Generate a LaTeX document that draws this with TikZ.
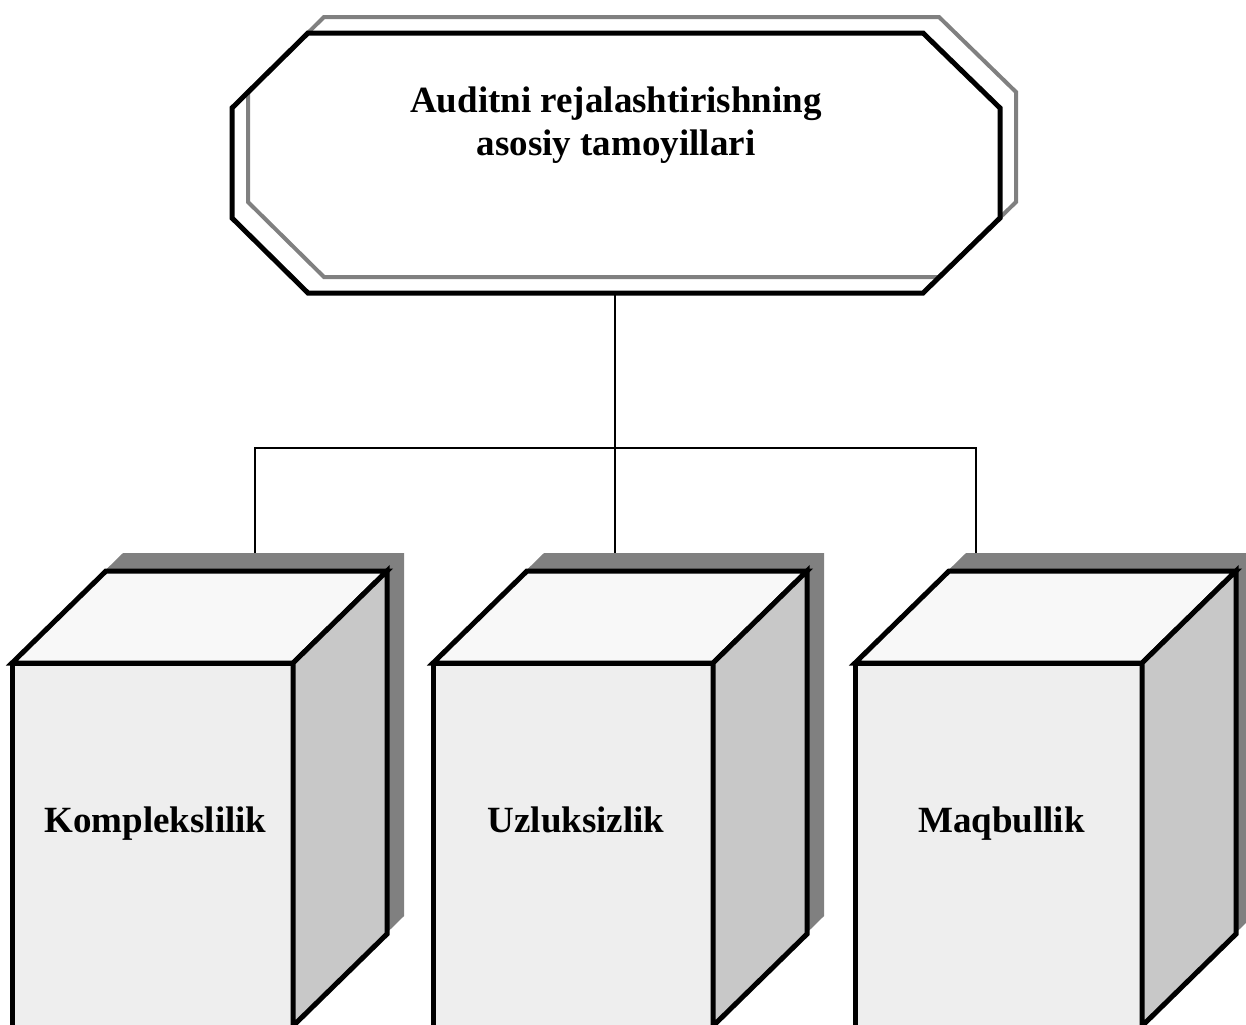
\documentclass[tikz,border=0pt]{standalone}
\usepackage{fontspec}
\setmainfont{Liberation Serif}
\usetikzlibrary{calc}

\definecolor{shadowgray}{RGB}{128,128,128}
\definecolor{sidegray}{RGB}{200,200,200}
\definecolor{topwhite}{RGB}{248,248,248}
\definecolor{granite}{RGB}{238,238,238}

\begin{document}
\begin{tikzpicture}[x=0.5pt, y=-0.5pt,
    edge/.style={line width=2.5pt, black},
    outline/.style={line width=2pt, shadowgray},
    link/.style={line width=0.75pt, black},
    label/.style={font=\fontsize{18.5}{21.5}\selectfont\bfseries, align=center}]

    \useasboundingbox (0,0) rectangle (1246,1024);

    % Title octagon (grey copy behind, black one in front)
    \draw[outline] (324,17) -- (939,17) -- (1016,92) -- (1016,202) -- (939,277)
        -- (324,277) -- (248,202) -- (248,92) -- cycle;
    \draw[edge] (308,33) -- (923,33) -- (1000,108) -- (1000,218) -- (923,293)
        -- (308,293) -- (232,218) -- (232,108) -- cycle;
    \node[label] (title) at (616,125) {Auditni rejalashtirishning\\asosiy tamoyillari};
    \coordinate (title-s) at (615,293);

    % Three boxes with shadows
    \foreach \x/\w/\lx/\txt/\nm in {12/281/255/Komplekslilik/kompleks,
                                    433/280/615/Uzluksizlik/uzluk,
                                    855/287/976/Maqbullik/maqbul} {
        \fill[shadowgray] (\x+17,663-18) -- ++(94,-92) -- ++(\w,0) -- ++(0,363)
            -- ++(-94,92) -- (\x+17,1040) -- cycle;
        \draw[edge, fill=granite] (\x,663) rectangle (\x+\w,1040);
        \draw[edge, fill=topwhite] (\x,663) -- ++(94,-92) -- ++(\w,0) -- (\x+\w,663) -- cycle;
        \draw[edge, fill=sidegray] (\x+\w,663) -- ++(94,-92) -- ++(0,363) -- (\x+\w,1026) -- cycle;
        \node[label, anchor=base] (\nm) at (\x+\w/2+3,832) {\txt};
        \coordinate (\nm-top) at (\lx,553);
    }

    % Connectors
    \coordinate (bus) at (615,448);
    \draw[link] (title-s) -- (uzluk-top);
    \draw[link] (kompleks-top) |- (bus) -| (maqbul-top);

\end{tikzpicture}
\end{document}
